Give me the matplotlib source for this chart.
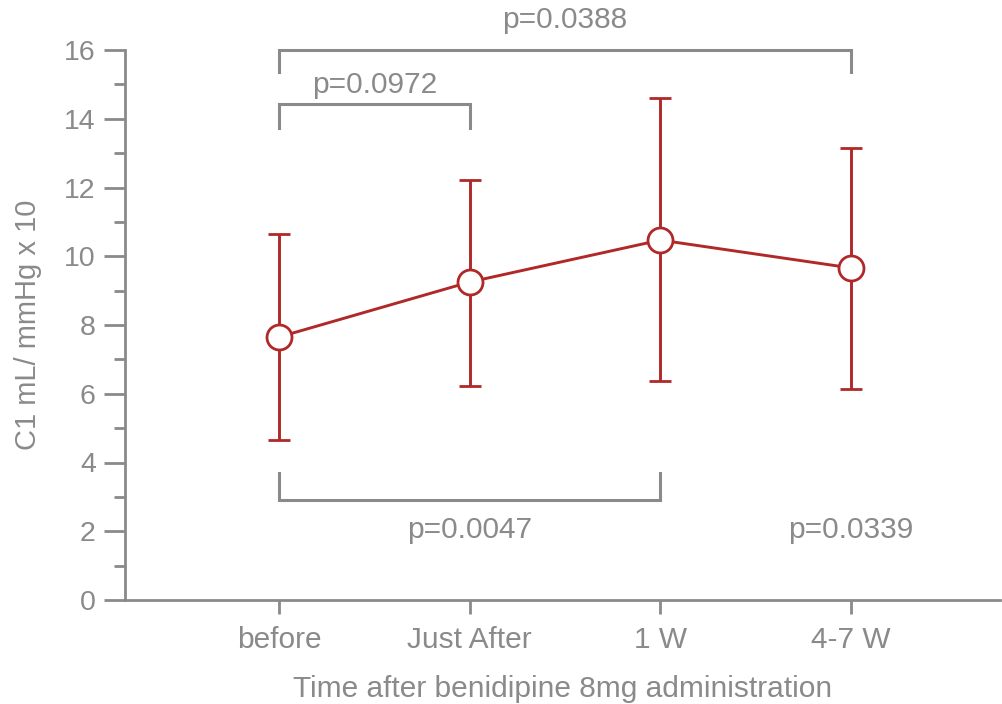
import matplotlib.pyplot as plt
from matplotlib.ticker import MultipleLocator

plt.rcParams['font.family'] = ['Liberation Sans', 'DejaVu Sans']

groups = ["before", "Just After", "1 W", "4-7 W"]
means = [7.65, 9.25, 10.47, 9.66]
upper = [10.65, 12.22, 14.6, 13.15]
lower = [4.65, 6.23, 6.37, 6.14]
pvals = ["p=0.0388", "p=0.0972", "p=0.0047", "p=0.0339"]

grey = "#8a8a8a"
red = "#b02828"
fs = 21.5

x = [1, 2, 3, 4]
err_lo = [m - l for m, l in zip(means, lower)]
err_hi = [u - m for m, u in zip(means, upper)]

fig = plt.figure(figsize=(10.02, 7.04), dpi=100)
ax = fig.add_axes([125 / 1002, 104 / 704, 875 / 1002, 550 / 704])

ax.errorbar(x, means, yerr=[err_lo, err_hi], color=red, lw=2.1, capsize=8,
            capthick=2.1, marker='o', ms=18, mfc='white', mec=red, mew=2, zorder=3)

ax.set_xlim(1 - 154 / 190.7, 4 + 149 / 190.7)
ax.set_ylim(0, 16)
ax.set_xticks(x)
ax.set_xticklabels(groups)
ax.yaxis.set_major_locator(MultipleLocator(2))
ax.yaxis.set_minor_locator(MultipleLocator(1))

for s in ["top", "right"]:
    ax.spines[s].set_visible(False)
for s in ["left", "bottom"]:
    ax.spines[s].set_color(grey)
    ax.spines[s].set_linewidth(2)

ax.tick_params(axis='y', which='major', length=15, width=2, color=grey,
               labelcolor=grey, labelsize=20.5, pad=6)
ax.tick_params(axis='y', which='minor', length=8, width=2, color=grey)
ax.tick_params(axis='x', length=10, width=2, color=grey, labelcolor=grey,
               labelsize=fs, pad=9)

ax.set_ylabel("C1 mL/ mmHg x 10", color=grey, fontsize=21, labelpad=16)
ax.set_xlabel("Time after benidipine 8mg administration", color=grey,
              fontsize=fs, labelpad=15)

# significance brackets
def bracket(x1, x2, y, tip):
    ax.plot([x1, x1, x2, x2], [tip, y, y, tip], color=grey, lw=2.2,
            clip_on=False, solid_joinstyle='miter')

bracket(1, 4, 16.0, 15.35)
bracket(1, 2, 14.42, 13.72)
bracket(1, 3, 2.9, 3.7)

ax.text(2.5, 16.87, pvals[0], ha='center', va='center', color=grey, fontsize=fs)
ax.text(1.5, 14.98, pvals[1], ha='center', va='center', color=grey, fontsize=fs)
ax.text(2.0, 2.04, pvals[2], ha='center', va='center', color=grey, fontsize=fs)
ax.text(4.0, 2.04, pvals[3], ha='center', va='center', color=grey, fontsize=fs)

fig.savefig("out.png", dpi=100)
